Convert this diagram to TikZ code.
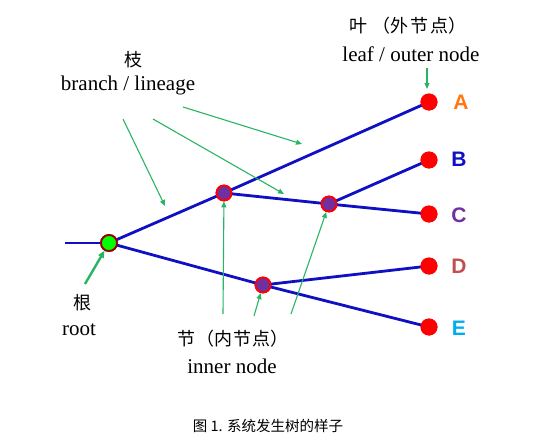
\documentclass[tikz,border=0pt]{standalone}
\usepackage{fontspec}
\setmainfont{Liberation Serif}
\newfontfamily\cjk{Noto Sans CJK SC}
\newfontfamily\lblfont{Liberation Sans}
\usetikzlibrary{arrows.meta}
\definecolor{brblue}{RGB}{15,15,195}
\definecolor{argreen}{RGB}{40,180,100}
\definecolor{inpurple}{RGB}{112,48,160}
\begin{document}
\begin{tikzpicture}[x=1pt,y=-1pt,
  branch/.style={draw=brblue,line width=2.8pt},
  leaf/.style={circle,fill=red,inner sep=0pt,minimum size=17pt},
  inner/.style={circle,fill=inpurple,draw=red,line width=1.8pt,inner sep=0pt,minimum size=15pt},
  rootnode/.style={circle,fill=green,draw=black!40!red,line width=1.8pt,inner sep=0pt,minimum size=16pt},
  garrow/.style={draw=argreen,line width=1.1pt,-{Triangle[length=6pt,width=5pt]}},
  txt/.style={font=\fontsize{21}{24}\selectfont,inner sep=0pt},
  ctxt/.style={font=\cjk\fontsize{18}{21}\selectfont,inner sep=0pt},
  lbl/.style={font=\lblfont\bfseries\fontsize{21}{24}\selectfont,inner sep=0pt}]
\useasboundingbox (0,0) rectangle (542,442);
% nodes
\coordinate (start) at (65,243);
\node[rootnode] (r) at (109,243) {};
\node[inner] (n1) at (224,193) {};
\node[inner] (n2) at (329,204) {};
\node[inner] (n3) at (263,285) {};
\node[leaf] (A) at (429,102) {};
\node[leaf] (B) at (429,160) {};
\node[leaf] (C) at (429,214) {};
\node[leaf] (D) at (429,266) {};
\node[leaf] (E) at (429,327) {};
% branches
\draw[branch] (start) -- (r.center);
\draw[branch] (r.center) -- (n1.center);
\draw[branch] (n1.center) -- (A.center);
\draw[branch] (n1.center) -- (n2.center);
\draw[branch] (n2.center) -- (B.center);
\draw[branch] (n2.center) -- (C.center);
\draw[branch] (r.center) -- (n3.center);
\draw[branch] (n3.center) -- (D.center);
\draw[branch] (n3.center) -- (E.center);
% redraw nodes on top
\node[rootnode] at (r) {};
\node[inner] at (n1) {};
\node[inner] at (n2) {};
\node[inner] at (n3) {};
\node[leaf] at (A) {};
\node[leaf] at (B) {};
\node[leaf] at (C) {};
\node[leaf] at (D) {};
\node[leaf] at (E) {};
% leaf labels
\node[lbl,text={rgb,255:red,255;green,120;blue,20}] (la) at (461,102) {A};
\node[lbl,text=brblue] (lb) at (459,159) {B};
\node[lbl,text=inpurple] (lc) at (459,215) {C};
\node[lbl,text={rgb,255:red,192;green,80;blue,77}] (ld) at (459,266) {D};
\node[lbl,text=cyan] (le) at (459,328) {E};
% texts
\node[ctxt] (tz) at (133,60) {枝};
\node[txt] (tbranch) at (128,85) {branch / lineage};
\node[ctxt] (tye) at (408,26) {叶\hspace{5pt}（外\hspace{2pt}节\hspace{2pt}点）};
\node[txt] (tleaf) at (411,54) {leaf / outer node};
\node[ctxt] (tgen) at (82,303) {根};
\node[txt] (troot) at (79,330) {root};
\node[ctxt] (tjie) at (233,339) {节\hspace{2pt}（内\hspace{1pt}节\hspace{1pt}点）};
\node[txt] (tinner) at (232,366) {inner node};
\node[font=\cjk\fontsize{14.5}{17}\selectfont,inner sep=0pt] (cap) at (268,426) {图 1. 系统发生树的样子};
% arrow coordinates
\coordinate (b1s) at (123,119); \coordinate (b1e) at (165,206);
\coordinate (b2s) at (153,119); \coordinate (b2e) at (284,194);
\coordinate (b3s) at (183,107); \coordinate (b3e) at (302,144);
\coordinate (lfs) at (427,68);  \coordinate (lfe) at (427,89);
\coordinate (rts) at (85,284);
\coordinate (i1s) at (223,314);
\coordinate (i2s) at (254,316);
\coordinate (i3s) at (291,314);
\draw[garrow] (b1s) -- (b1e);
\draw[garrow] (b2s) -- (b2e);
\draw[garrow] (b3s) -- (b3e);
\draw[garrow] (lfs) -- (lfe);
\draw[draw=argreen,line width=2.4pt,-{Triangle[length=7pt,width=6pt]}] (rts) -- (r);
\draw[garrow] (i1s) -- (n1);
\draw[garrow] (i2s) -- (n3);
\draw[garrow] (i3s) -- (n2);
\end{tikzpicture}
\end{document}
